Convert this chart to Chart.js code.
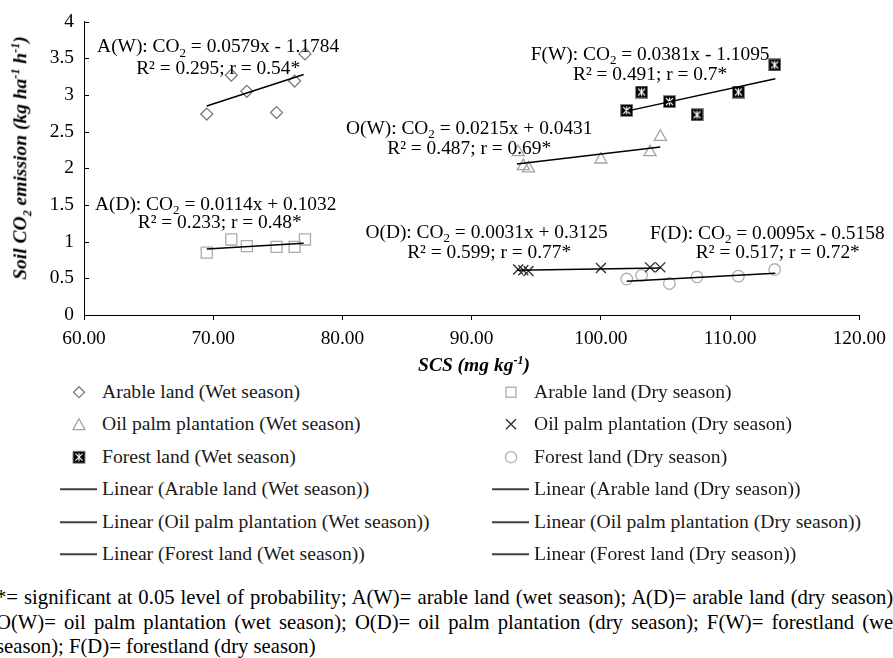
<!DOCTYPE html>
<html lang="en">
<head>
  <meta charset="UTF-8">
  <title>Soil CO2 emission vs SCS</title>
  <script src="https://cdn.jsdelivr.net/npm/chart.js"></script>
  <style>
    body{margin:0;background:#fff;font-family:'Liberation Serif','Times New Roman',serif;color:#000;}
    #wrap{position:relative;width:893px;height:658px;overflow:hidden;}
    #chart{position:absolute;left:0;top:0;}
    .ttl{position:absolute;font-weight:bold;font-style:italic;font-size:19.5px;white-space:nowrap;line-height:1;}
    .ttl sub,.ttl sup{font-size:0.62em;line-height:0;}
    #ytitle{left:20px;top:158px;transform:translate(-50%,-50%) rotate(-90deg);}
    #xtitle{left:474px;top:365px;transform:translate(-50%,-50%);}
    .lg{position:absolute;font-size:19.6px;white-space:nowrap;line-height:1;color:#1a1a1a;transform:translateY(-50%);}
    .lg svg{position:absolute;top:50%;transform:translateY(-50%);}
    .note{position:absolute;left:-4px;width:903px;font-size:20.7px;line-height:1;white-space:nowrap;}
    .note.j{text-align:justify;text-align-last:justify;white-space:normal;}
  </style>
</head>
<body>
<div id="wrap">
  <canvas id="chart" width="893" height="380"></canvas>
  <div class="ttl" id="ytitle">Soil CO<sub>2</sub> emission (kg ha<sup>-1</sup> h<sup>-1</sup>)</div>
  <div class="ttl" id="xtitle">SCS (mg kg<sup>-1</sup>)</div>
  <div id="legend"></div>
  <div class="note j" style="top:587px">*= significant at 0.05 level of probability; A(W)= arable land (wet season); A(D)= arable land (dry season);</div>
  <div class="note j" style="top:612px">O(W)= oil palm plantation (wet season); O(D)= oil palm plantation (dry season); F(W)= forestland (wet</div>
  <div class="note" style="top:636px">season); F(D)= forestland (dry season)</div>
</div>
<script>
// SCS values (mg/kg) per land use, same for both seasons
const arableX = [69.5, 71.4, 72.6, 74.9, 76.3, 77.1];
const palmX   = [93.6, 94.0, 94.4, 100.0, 103.8, 104.6];
const forestX = [102.0, 103.15, 105.3, 107.44, 110.64, 113.45];

// soil CO2 emission
const arableWet = [2.74, 3.27, 3.05, 2.76, 3.19, 3.56];
const arableDry = [0.85, 1.03, 0.94, 0.93, 0.93, 1.03];
const palmWet   = [2.22, 2.03, 2.00, 2.12, 2.22, 2.43];
const palmDry   = [0.62, 0.61, 0.60, 0.64, 0.65, 0.65];
const forestWet = [2.79, 3.04, 2.91, 2.73, 3.04, 3.41];
const forestDry = [0.49, 0.54, 0.43, 0.52, 0.53, 0.62];

// trend line end points: [x0, x1], [y0, y1]
const trendX = {A: [69.5, 77.0], O: [93.5, 104.6], F: [102.0, 113.5]};
const trendAW = [2.85, 3.28];
const trendAD = [0.90, 0.98];
const trendOW = [2.06, 2.29];
const trendOD = [0.61, 0.64];
const trendFW = [2.78, 3.22];
const trendFD = [0.46, 0.57];

const xTickLabels = ['60.00', '70.00', '80.00', '90.00', '100.00', '110.00', '120.00'];
const yTickLabels = ['0', '0.5', '1', '1.5', '2', '2.5', '3', '3.5', '4'];

const seriesNames = [
  'Arable land (Wet season)', 'Arable land (Dry season)',
  'Oil palm plantation (Wet season)', 'Oil palm plantation (Dry season)',
  'Forest land (Wet season)', 'Forest land (Dry season)'
];

// regression labels
const eqLabels = [
  ['A(W)', '0.0579x - 1.1784', 'R\u00b2 = 0.295; r = 0.54*'],
  ['A(D)', '0.0114x + 0.1032', 'R\u00b2 = 0.233; r = 0.48*'],
  ['O(W)', '0.0215x + 0.0431', 'R\u00b2 = 0.487; r = 0.69*'],
  ['O(D)', '0.0031x + 0.3125', 'R\u00b2 = 0.599; r = 0.77*'],
  ['F(W)', '0.0381x - 1.1095', 'R\u00b2 = 0.491; r = 0.7*'],
  ['F(D)', '0.0095x - 0.5158', 'R\u00b2 = 0.517; r = 0.72*']
];
// where each label sits, in axis units: eq centre, r line centre
const eqSpots = [
  [70.38, 3.65, 70.38, 3.35],
  [70.19, 1.50, 70.50, 1.26],
  [89.81, 2.54, 89.81, 2.26],
  [91.15, 1.12, 91.35, 0.85],
  [103.81, 3.55, 103.81, 3.27],
  [112.88, 1.11, 113.69, 0.84]
];

function pts(xs, ys){ return xs.map((x, i) => ({x: x, y: ys[i]})); }

// forest wet marker: black square with white star
function forestMark(){
  const c = document.createElement('canvas');
  c.width = 13; c.height = 13;
  const g = c.getContext('2d');
  g.fillStyle = '#000'; g.fillRect(0.5, 0.5, 12, 12);
  g.strokeStyle = '#8a8a8a'; g.lineWidth = 1; g.strokeRect(0.5, 0.5, 12, 12);
  g.strokeStyle = '#fff'; g.lineWidth = 1.1;
  g.beginPath();
  g.moveTo(3, 3); g.lineTo(10, 10); g.moveTo(10, 3); g.lineTo(3, 10);
  g.moveTo(6.5, 2.5); g.lineTo(6.5, 10.5);
  g.stroke();
  return c;
}

function scatterSet(label, xs, ys, style){
  return Object.assign({label: label, data: pts(xs, ys), backgroundColor: 'rgba(0,0,0,0)', borderWidth: 1.3}, style);
}
function trendSet(label, xs, ys){
  return {type: 'line', label: label, data: pts(xs, ys), borderColor: '#000', borderWidth: 1.5,
    pointRadius: 0, fill: false, showLine: true};
}

const innerTicks = {
  id: 'innerTicks',
  afterDraw(chart){
    const ctx = chart.ctx, y = chart.scales.y, a = chart.chartArea;
    ctx.save();
    ctx.strokeStyle = '#000'; ctx.lineWidth = 1;
    y.ticks.forEach(t => {
      const py = Math.round(y.getPixelForValue(t.value)) + 0.5;
      ctx.beginPath(); ctx.moveTo(a.left, py); ctx.lineTo(a.left + 5, py); ctx.stroke();
    });
    ctx.restore();
  }
};

const eqText = {
  id: 'eqText',
  afterDraw(chart){
    const ctx = chart.ctx, sx = chart.scales.x, sy = chart.scales.y;
    const big = '19.4px "Liberation Serif", serif', small = '13px "Liberation Serif", serif';
    ctx.save();
    ctx.fillStyle = '#000';
    ctx.textBaseline = 'middle';
    ctx.textAlign = 'left';
    eqLabels.forEach((lab, i) => {
      const s = eqSpots[i];
      const a = lab[0] + ': CO', b = ' = ' + lab[1];
      ctx.font = big; const wa = ctx.measureText(a).width, wb = ctx.measureText(b).width;
      ctx.font = small; const ws = ctx.measureText('2').width;
      let px = sx.getPixelForValue(s[0]) - (wa + ws + wb) / 2;
      const py = sy.getPixelForValue(s[1]);
      ctx.font = big; ctx.fillText(a, px, py); px += wa;
      ctx.font = small; ctx.fillText('2', px, py + 6); px += ws;
      ctx.font = big; ctx.fillText(b, px, py);
      ctx.textAlign = 'center';
      ctx.fillText(lab[2], sx.getPixelForValue(s[2]), sy.getPixelForValue(s[3]));
      ctx.textAlign = 'left';
    });
    ctx.restore();
  }
};

new Chart(document.getElementById('chart'), {
  type: 'scatter',
  data: {
    datasets: [
      trendSet('Linear (Arable land (Wet season))', trendX.A, trendAW),
      trendSet('Linear (Arable land (Dry season))', trendX.A, trendAD),
      trendSet('Linear (Oil palm plantation (Wet season))', trendX.O, trendOW),
      trendSet('Linear (Oil palm plantation (Dry season))', trendX.O, trendOD),
      trendSet('Linear (Forest land (Wet season))', trendX.F, trendFW),
      trendSet('Linear (Forest land (Dry season))', trendX.F, trendFD),
      scatterSet(seriesNames[0], arableX, arableWet, {pointStyle: 'rectRot', pointRadius: 6, borderColor: '#7a7a7a'}),
      scatterSet(seriesNames[1], arableX, arableDry, {pointStyle: 'rect', pointRadius: 7.8, borderColor: '#ababab'}),
      scatterSet(seriesNames[2], palmX, palmWet, {pointStyle: 'triangle', pointRadius: 7, borderColor: '#a3a3a3'}),
      scatterSet(seriesNames[3], palmX, palmDry, {pointStyle: 'crossRot', pointRadius: 7, borderColor: '#333', borderWidth: 1.4}),
      scatterSet(seriesNames[4], forestX, forestWet, {pointStyle: forestMark()}),
      scatterSet(seriesNames[5], forestX, forestDry, {pointStyle: 'circle', pointRadius: 5.8, borderColor: '#b0b0b0'})
    ]
  },
  options: {
    responsive: false,
    animation: false,
    devicePixelRatio: 1,
    layout: {padding: {left: 0, right: 29, top: 18, bottom: 35}},
    plugins: {legend: {display: false}, tooltip: {enabled: false}},
    scales: {
      x: {
        type: 'linear', min: 60, max: 120,
        afterFit(s){ s.height = 30; },
        border: {display: true, color: '#000', width: 1},
        grid: {drawOnChartArea: false, drawTicks: true, tickLength: 5, color: '#000'},
        ticks: {stepSize: 10, padding: 7, color: '#000', maxRotation: 0,
          font: {family: 'Liberation Serif', size: 19.4},
          callback: (v) => xTickLabels[Math.round((v - 60) / 10)]}
      },
      y: {
        type: 'linear', min: 0, max: 4,
        afterFit(s){ s.width = 84; },
        border: {display: true, color: '#000', width: 1},
        grid: {drawOnChartArea: false, drawTicks: false},
        ticks: {stepSize: 0.5, padding: 10, color: '#000',
          font: {family: 'Liberation Serif', size: 19.4},
          callback: (v) => yTickLabels[Math.round(v * 2)]}
      }
    }
  },
  plugins: [innerTicks, eqText]
});

// legend, two columns like the original figure
const svgMarks = {
  diamond: '<polygon points="7,1.5 12.5,7 7,12.5 1.5,7" fill="none" stroke="#7a7a7a" stroke-width="1.3"/>',
  square: '<rect x="2" y="2" width="10" height="10" fill="none" stroke="#ababab" stroke-width="1.3"/>',
  triangle: '<polygon points="7,1.5 13,12.5 1,12.5" fill="none" stroke="#a3a3a3" stroke-width="1.3"/>',
  cross: '<path d="M2,2 L12,12 M12,2 L2,12" stroke="#333" stroke-width="1.4"/>',
  forest: '<rect x="1" y="1" width="12" height="12" fill="#000" stroke="#8a8a8a"/><path d="M3.5,3.5 L10.5,10.5 M10.5,3.5 L3.5,10.5 M7,3 L7,11" stroke="#fff" stroke-width="1.1"/>',
  circle: '<circle cx="7" cy="7" r="5.6" fill="none" stroke="#b0b0b0" stroke-width="1.3"/>'
};
const legendMarks = ['diamond', 'square', 'triangle', 'cross', 'forest', 'circle'];
const legendRows = [392, 424, 457, 489, 522, 554];
const legendCols = [{mark: 79, text: 102, line: 60}, {mark: 511, text: 534, line: 492}];
let html = '';
seriesNames.forEach((name, i) => {
  const col = legendCols[i % 2], top = legendRows[Math.floor(i / 2)];
  html += '<div class="lg" style="left:' + col.text + 'px;top:' + top + 'px">' +
    '<svg width="14" height="14" style="left:' + (col.mark - col.text - 7) + 'px">' + svgMarks[legendMarks[i]] + '</svg>' + name + '</div>';
});
seriesNames.forEach((name, i) => {
  const col = legendCols[i % 2], top = legendRows[3 + Math.floor(i / 2)];
  html += '<div class="lg" style="left:' + col.text + 'px;top:' + top + 'px">' +
    '<svg width="38" height="4" style="left:' + (col.line - col.text) + 'px"><line x1="0" y1="2" x2="37" y2="2" stroke="#404040" stroke-width="2"/></svg>' +
    'Linear (' + name + ')</div>';
});
document.getElementById('legend').innerHTML = html;
</script>
</body>
</html>
